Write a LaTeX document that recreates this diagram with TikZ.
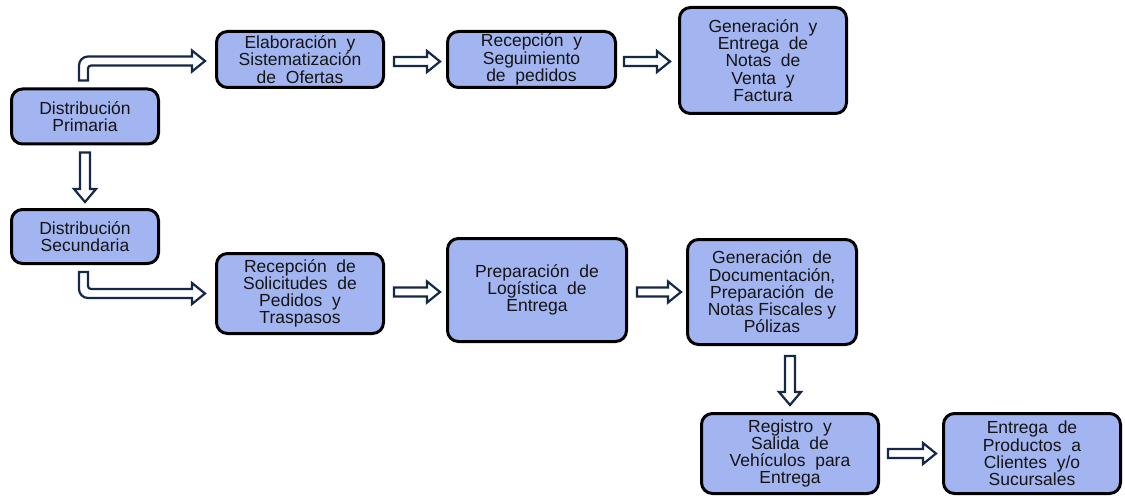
\documentclass[tikz,border=0pt]{standalone}
\usepackage{fontspec}
\setmainfont{Liberation Sans}
\usetikzlibrary{calc}
\definecolor{boxfill}{RGB}{163,181,240}
\definecolor{arrowline}{RGB}{20,40,72}
\tikzset{
  procbox/.style={draw=black, line width=3pt, fill=boxfill, rounded corners=11pt,
    align=center, font=\fontsize{17.5}{17.2}\selectfont, inner sep=2pt, text=black!92},
  blockarrow/.style={draw=arrowline, line width=2.2pt, fill=white, line join=miter},
}
\newcommand\harrow[2]{%
  \draw[blockarrow] ($(#1)+(0,-4.5)$) -- ($(#2)+(-13,-4.5)$) -- ($(#2)+(-13,-10.5)$) -- (#2)
    -- ($(#2)+(-13,10.5)$) -- ($(#2)+(-13,4.5)$) -- ($(#1)+(0,4.5)$) -- cycle;}
\newcommand\varrow[2]{%
  \draw[blockarrow] ($(#1)+(-5,0)$) -- ($(#2)+(-5,-13)$) -- ($(#2)+(-11,-13)$) -- (#2)
    -- ($(#2)+(11,-13)$) -- ($(#2)+(5,-13)$) -- ($(#1)+(5,0)$) -- cycle;}
\begin{document}
\begin{tikzpicture}[x=1pt,y=-1pt]
\useasboundingbox (0,0) rectangle (1125,500);

\node[procbox, minimum width=147pt, minimum height=55pt] (dp) at (85,116.5) {Distribución\\Primaria};
\node[procbox, minimum width=167pt, minimum height=56pt] (elab) at (300,59.5) {Elaboración\ \ y\\Sistematización\\de\ \ Ofertas};
\node[procbox, minimum width=168pt, minimum height=56pt] (recep) at (531.5,59.5) {Recepción\ \ y\\Seguimiento\\de\ \ pedidos};
\node[procbox, minimum width=167pt, minimum height=106pt] (gen) at (763,60.5) {Generación\ \ y\\Entrega\ \ de\\Notas\ \ de\\Venta\ \ y\\Factura};
\node[procbox, minimum width=147pt, minimum height=54pt] (ds) at (85,236.5) {Distribución\\Secundaria};
\node[procbox, minimum width=167pt, minimum height=80pt] (rsol) at (300,293.5) {Recepción\ \ de\\Solicitudes\ \ de\\Pedidos\ \ y\\Traspasos};
\node[procbox, minimum width=179pt, minimum height=103pt] (prep) at (537,290) {Preparación\ \ de\\Logística\ \ de\\Entrega};
\node[procbox, minimum width=169pt, minimum height=105pt] (gdoc) at (772,292) {Generación\ \ de\\Documentación,\\Preparación\ \ de\\Notas\ Fiscales\ y\\Pólizas};
\node[procbox, minimum width=177pt, minimum height=80pt] (reg) at (790,453.5) {Registro\ \ y\\Salida\ \ de\\Vehículos\ \ para\\Entrega};
\node[procbox, minimum width=177pt, minimum height=80pt] (ent) at (1032,453.5) {Entrega\ \ de\\Productos\ \ a\\Clientes\ \ y/o\\Sucursales};

% horizontal arrows
\coordinate (a1s) at ($(elab.east)+(9,2)$);  \coordinate (a1e) at ($(recep.west)+(-6,2)$);
\harrow{a1s}{a1e}
\coordinate (a2s) at ($(recep.east)+(7,2)$); \coordinate (a2e) at ($(gen.west |- recep.west)+(-8,2)$);
\harrow{a2s}{a2e}
\coordinate (a3s) at ($(rsol.east)+(9,-1.5)$); \coordinate (a3e) at ($(prep.west |- rsol.east)+(-6,-1.5)$);
\harrow{a3s}{a3e}
\coordinate (a4s) at ($(prep.east)+(9,2)$); \coordinate (a4e) at ($(gdoc.west |- prep.east)+(-5,2)$);
\harrow{a4s}{a4e}
\coordinate (a5s) at ($(reg.east)+(8,0)$); \coordinate (a5e) at ($(ent.west)+(-6,0)$);
\harrow{a5s}{a5e}

% vertical arrows
\coordinate (v1s) at ($(dp.south)+(0,7)$); \coordinate (v1e) at ($(ds.north)+(0,-6)$);
\varrow{v1s}{v1e}
\coordinate (v2s) at ($(reg.north |- gdoc.south)+(0,10)$); \coordinate (v2e) at ($(reg.north)+(0,-7)$);
\varrow{v2s}{v2e}

% bent arrow up then right
\coordinate (b1s) at ($(dp.north)+(-1.5,-7)$); \coordinate (b1e) at ($(elab.west)+(-10,1.5)$);
\draw[blockarrow] ($(b1s)+(-4.5,0)$) [rounded corners=9pt] -- ($(b1s |- b1e)+(-4.5,-4.5)$) [sharp corners]
  -- ($(b1e)+(-13,-4.5)$) -- ($(b1e)+(-13,-10.5)$) -- (b1e) -- ($(b1e)+(-13,10.5)$) -- ($(b1e)+(-13,4.5)$)
  [rounded corners=3pt] -- ($(b1s |- b1e)+(4.5,4.5)$) [sharp corners] -- ($(b1s)+(4.5,0)$) -- cycle;

% bent arrow down then right
\coordinate (b2s) at ($(ds.south)+(-1.5,7)$); \coordinate (b2e) at ($(rsol.west)+(-10,0)$);
\draw[blockarrow] ($(b2s)+(-4.5,0)$) [rounded corners=9pt] -- ($(b2s |- b2e)+(-4.5,4.5)$) [sharp corners]
  -- ($(b2e)+(-13,4.5)$) -- ($(b2e)+(-13,10.5)$) -- (b2e) -- ($(b2e)+(-13,-10.5)$) -- ($(b2e)+(-13,-4.5)$)
  [rounded corners=3pt] -- ($(b2s |- b2e)+(4.5,-4.5)$) [sharp corners] -- ($(b2s)+(4.5,0)$) -- cycle;
\end{tikzpicture}
\end{document}
